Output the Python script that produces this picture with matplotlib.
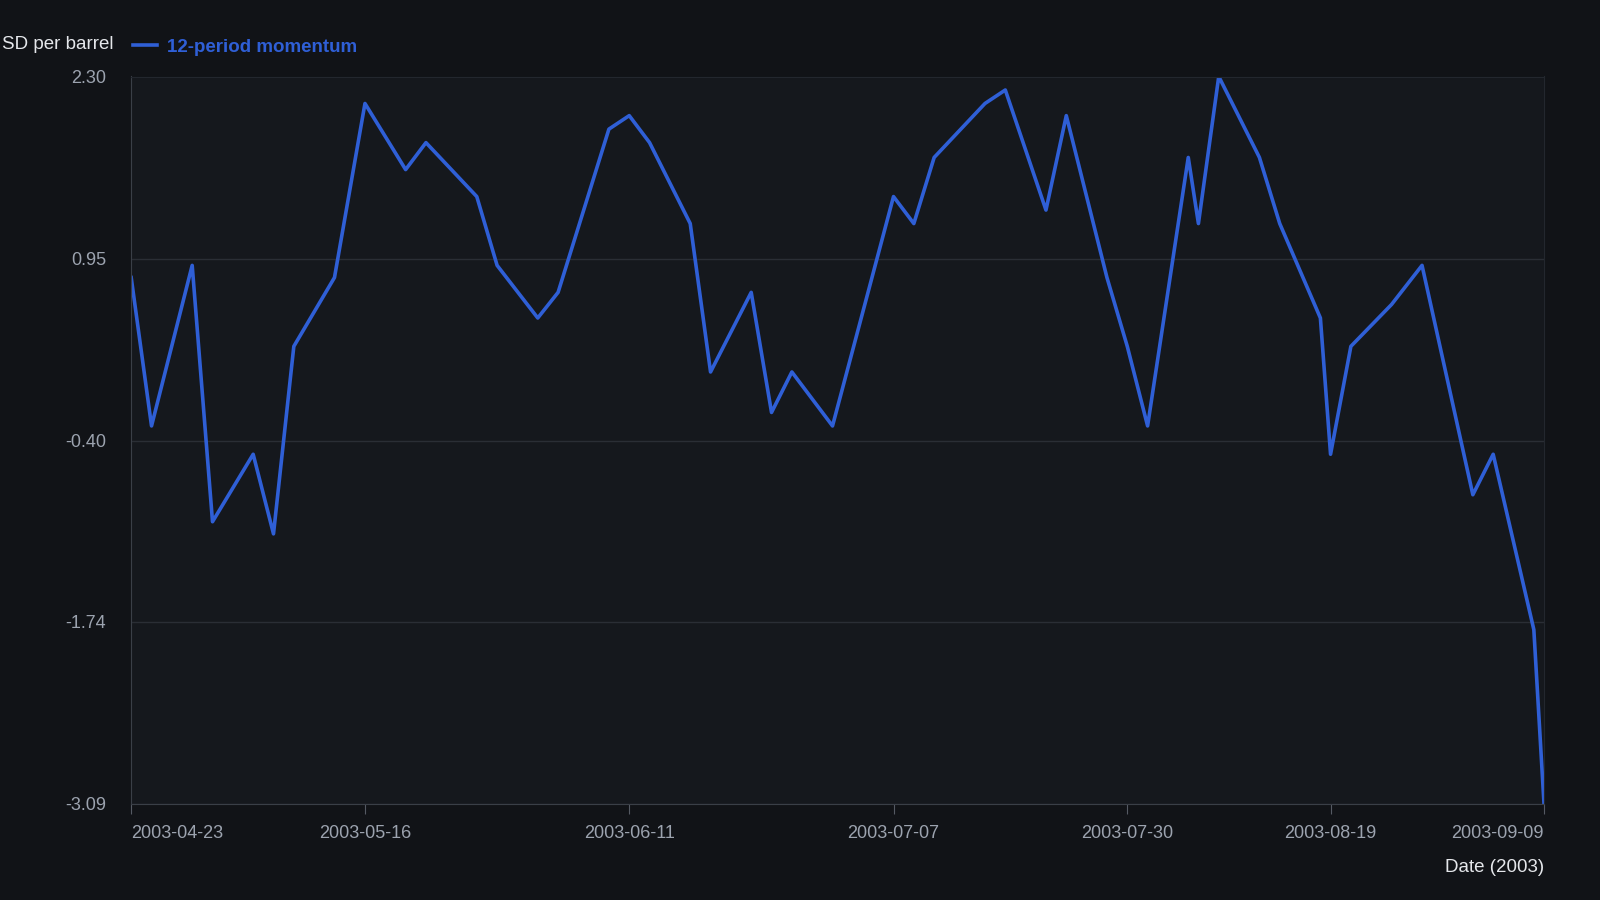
import matplotlib
matplotlib.use("Agg")
import matplotlib.pyplot as plt
import matplotlib.dates as mdates
import pandas as pd

plt.rcParams['font.family'] = ['Liberation Sans', 'DejaVu Sans']

dates = ["2003-04-23","2003-04-25","2003-04-29","2003-05-01","2003-05-05","2003-05-07","2003-05-09",
 "2003-05-13","2003-05-16","2003-05-20","2003-05-22","2003-05-27","2003-05-29","2003-06-02","2003-06-04",
 "2003-06-09","2003-06-11","2003-06-13","2003-06-17","2003-06-19","2003-06-23","2003-06-25","2003-06-27",
 "2003-07-01","2003-07-07","2003-07-09","2003-07-11","2003-07-16","2003-07-18","2003-07-22","2003-07-24",
 "2003-07-28","2003-07-30","2003-08-01","2003-08-05","2003-08-06","2003-08-08","2003-08-12","2003-08-14",
 "2003-08-18","2003-08-19","2003-08-21","2003-08-25","2003-08-28","2003-09-02","2003-09-04","2003-09-08","2003-09-09"]
momentum = [0.81,-0.29,0.90,-1.00,-0.50,-1.09,0.30,0.81,2.10,1.61,1.81,1.41,0.90,0.51,0.70,1.91,2.01,1.81,
 1.21,0.11,0.70,-0.19,0.11,-0.29,1.41,1.21,1.70,2.10,2.20,1.31,2.01,0.81,0.30,-0.29,1.70,1.21,2.30,1.70,
 1.21,0.51,-0.50,0.30,0.61,0.90,-0.80,-0.50,-1.80,-3.09]
yticks = [2.30, 0.95, -0.40, -1.74, -3.09]
xtick_labels = ["2003-04-23","2003-05-16","2003-06-11","2003-07-07","2003-07-30","2003-08-19","2003-09-09"]

x = pd.to_datetime(dates)
bg = "#111317"; axbg = "#15181d"; txt = "#9ca3af"; line = "#2f5fd6"

fig = plt.figure(figsize=(16, 9), dpi=100, facecolor=bg)
ax = fig.add_axes([0.082, 0.107, 0.883, 0.808], facecolor=axbg)
ax.plot(x, momentum, color=line, lw=2.6, label="12-period momentum")
ax.set_xlim(x[0], x[-1])
ax.set_ylim(-3.09, 2.30)
ax.set_yticks(yticks)
ax.set_yticklabels([f"{v:.2f}" for v in yticks])
ax.set_xticks(pd.to_datetime(xtick_labels))
ax.xaxis.set_major_formatter(mdates.DateFormatter("%Y-%m-%d"))
ax.grid(axis="y", color="#2a2e35", lw=1)
ax.tick_params(axis="y", length=0, colors=txt, labelsize=13, pad=18)
ax.tick_params(axis="x", length=7, color="#555a63", colors=txt, labelsize=13, pad=8)
for lab in ax.get_xticklabels():
    lab.set_horizontalalignment("center")
ax.get_xticklabels()[0].set_horizontalalignment("left")
ax.get_xticklabels()[-1].set_horizontalalignment("right")
for s in ["top", "right"]:
    ax.spines[s].set_color("#23272e")
for s in ["left", "bottom"]:
    ax.spines[s].set_color("#3a3f47")
fig.text(0.071, 0.951, "SD per barrel", color="#e5e7eb", fontsize=13.5, ha="right", va="center")
leg = ax.legend(loc="center left", bbox_to_anchor=(-0.004, 1.04), frameon=False, handlelength=1.3,
                handletextpad=0.5, borderaxespad=0.0, fontsize=13.5)
for t in leg.get_texts():
    t.set_color(line); t.set_fontweight("bold")
fig.text(0.965, 0.036, "Date (2003)", color="#e5e7eb", fontsize=13.5, ha="right", va="center")
fig.savefig("out.png", facecolor=bg)
